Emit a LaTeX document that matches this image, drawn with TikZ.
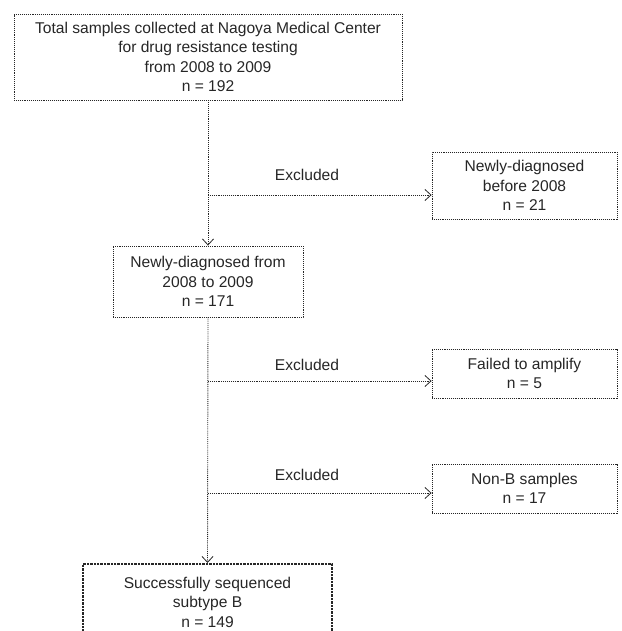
\documentclass[tikz,border=0pt]{standalone}
\usepackage{fontspec}
\setmainfont{Liberation Sans}
\usetikzlibrary{arrows.meta}
\begin{document}
\begin{tikzpicture}[x=1pt,y=-1pt,
  txt/.style={font=\fontsize{15.6}{19.5}\selectfont, text=black!85, align=center, inner sep=0pt},
  box/.style={txt, draw=black!85, line width=0.9pt, densely dotted},
  finalbox/.style={txt, draw=black!85, line width=2.4pt, densely dotted},
  conn/.style={draw=black!85, line width=0.9pt, densely dotted},
  arr/.style={conn, -{Straight Barb[length=6pt,width=11pt,line width=0.8pt]}}
]
\useasboundingbox (0,0) rectangle (621,631);
\clip (0,0) rectangle (621,631);

\node[box, minimum width=388pt, minimum height=86pt] (total) at (208,57)
  {Total samples collected at Nagoya Medical Center\\for drug resistance testing\\from 2008 to 2009\\n = 192};
\node[box, minimum width=185pt, minimum height=67pt] (before) at (524.5,185.5)
  {Newly-diagnosed\\before 2008\\n = 21};
\node[box, minimum width=190pt, minimum height=71pt] (newly) at (208,281.5)
  {Newly-diagnosed from\\2008 to 2009\\n = 171};
\node[box, minimum width=185pt, minimum height=49pt] (failed) at (524.5,373.5)
  {Failed to amplify\\n = 5};
\node[box, minimum width=185pt, minimum height=49pt] (nonb) at (524.5,488.5)
  {Non-B samples\\n = 17};
\node[finalbox, minimum width=249pt, minimum height=76pt, anchor=north] (final) at (207.5,563)
  {Successfully sequenced\\subtype B\\n = 149};

\coordinate (b1) at (208,195);
\coordinate (b2) at (208,381);
\coordinate (b3) at (208,493);

\draw[arr] (total.south) -- (newly.north);
\draw[arr] (b1) -- (b1 -| before.west);
\draw[arr] (newly.south) -- (final.north);
\draw[arr] (b2) -- (b2 -| failed.west);
\draw[arr] (b3) -- (b3 -| nonb.west);

\node[txt] (ex1) at (307,175) {Excluded};
\node[txt] (ex2) at (307,365) {Excluded};
\node[txt] (ex3) at (307,475) {Excluded};
\end{tikzpicture}
\end{document}
